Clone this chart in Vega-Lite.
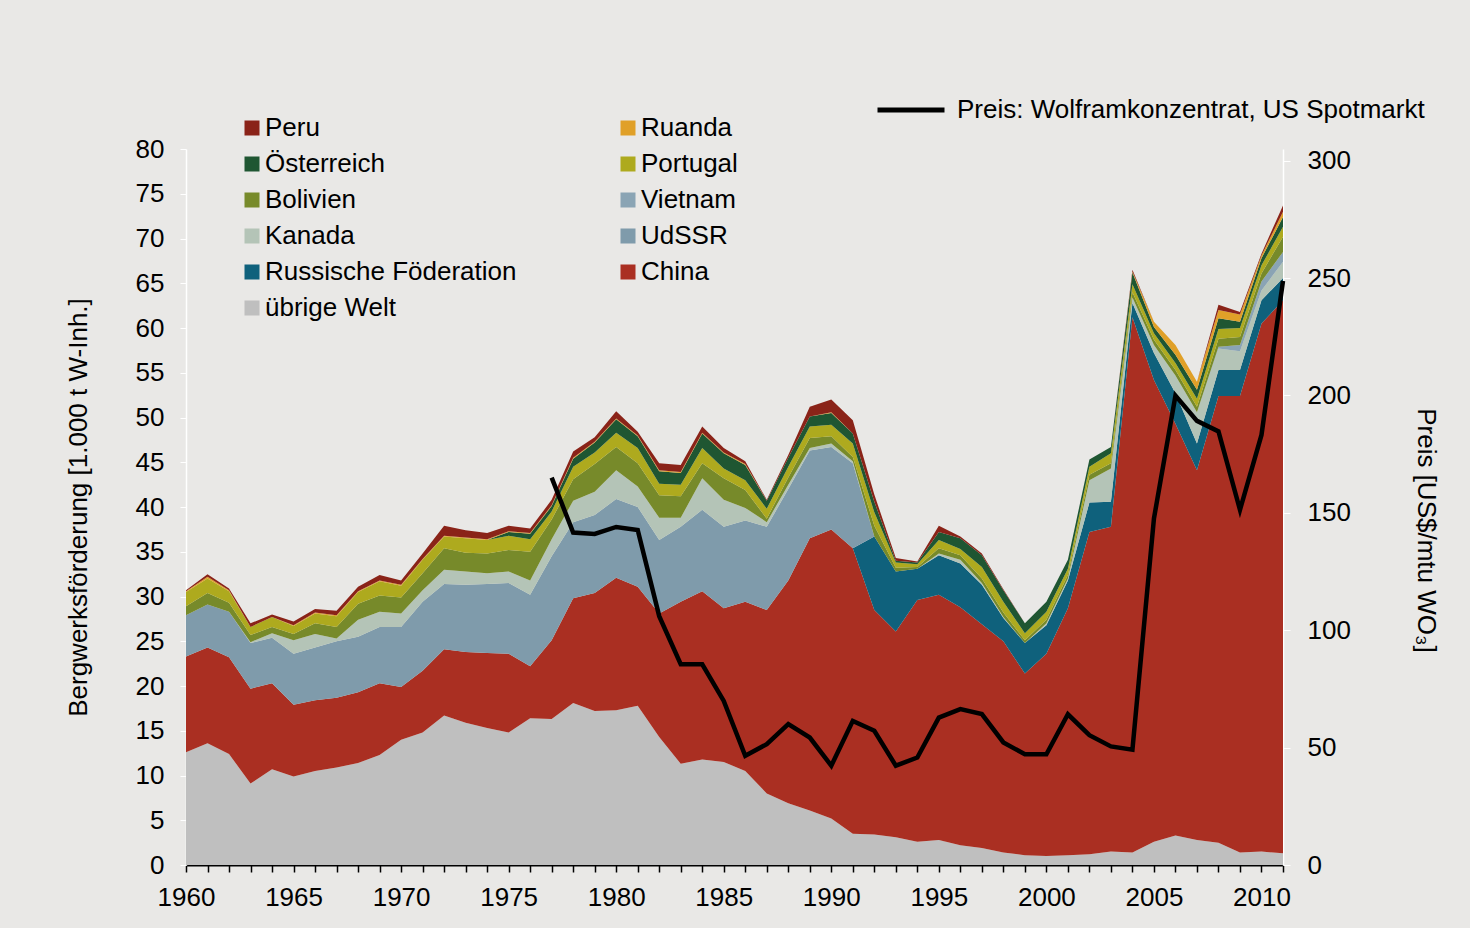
{
  "$schema": "https://vega.github.io/schema/vega-lite/v6.json",
  "width": 1097,
  "height": 716,
  "autosize": {"type": "none"},
  "padding": {"left": 186, "top": 149, "right": 187, "bottom": 63},
  "background": "#e9e8e6",
  "config": {
    "font": "Liberation Sans",
    "view": {"stroke": null},
    "axis": {"grid": false, "labelFont": "Liberation Sans", "titleFont": "Liberation Sans", "labelFontSize": 26, "labelColor": "#000", "titleFontSize": 26, "titleFontWeight": "normal", "titleColor": "#000"},
    "axisX": {"labelOverlap": false}
  },
  "data": {
    "values": [
      {"Jahr": 1960, "übrige Welt": 12.6, "China": 10.7, "UdSSR": 4.6, "Russische Föderation": 0, "Kanada": 0, "Vietnam": 0, "Bolivien": 1.0, "Portugal": 1.6, "Österreich": 0, "Ruanda": 0.1, "Peru": 0.1, "Preis": null},
      {"Jahr": 1961, "übrige Welt": 13.6, "China": 10.7, "UdSSR": 4.8, "Russische Föderation": 0, "Kanada": 0, "Vietnam": 0, "Bolivien": 1.3, "Portugal": 1.6, "Österreich": 0, "Ruanda": 0.2, "Peru": 0.3, "Preis": null},
      {"Jahr": 1962, "übrige Welt": 12.4, "China": 10.8, "UdSSR": 5.1, "Russische Föderation": 0, "Kanada": 0, "Vietnam": 0, "Bolivien": 1.0, "Portugal": 1.3, "Österreich": 0, "Ruanda": 0.1, "Peru": 0.2, "Preis": null},
      {"Jahr": 1963, "übrige Welt": 9.1, "China": 10.6, "UdSSR": 5.1, "Russische Föderation": 0, "Kanada": 0.1, "Vietnam": 0, "Bolivien": 0.8, "Portugal": 0.9, "Österreich": 0, "Ruanda": 0, "Peru": 0.4, "Preis": null},
      {"Jahr": 1964, "übrige Welt": 10.7, "China": 9.6, "UdSSR": 5.1, "Russische Föderation": 0, "Kanada": 0.5, "Vietnam": 0, "Bolivien": 0.7, "Portugal": 1.1, "Österreich": 0, "Ruanda": 0, "Peru": 0.3, "Preis": null},
      {"Jahr": 1965, "übrige Welt": 9.9, "China": 8.0, "UdSSR": 5.7, "Russische Föderation": 0, "Kanada": 1.5, "Vietnam": 0, "Bolivien": 0.7, "Portugal": 0.9, "Österreich": 0, "Ruanda": 0.1, "Peru": 0.4, "Preis": null},
      {"Jahr": 1966, "übrige Welt": 10.5, "China": 7.9, "UdSSR": 5.9, "Russische Föderation": 0, "Kanada": 1.5, "Vietnam": 0, "Bolivien": 1.2, "Portugal": 1.1, "Österreich": 0, "Ruanda": 0.1, "Peru": 0.4, "Preis": null},
      {"Jahr": 1967, "übrige Welt": 10.9, "China": 7.8, "UdSSR": 6.3, "Russische Föderation": 0, "Kanada": 0.3, "Vietnam": 0, "Bolivien": 1.3, "Portugal": 1.2, "Österreich": 0, "Ruanda": 0.1, "Peru": 0.5, "Preis": null},
      {"Jahr": 1968, "übrige Welt": 11.4, "China": 7.9, "UdSSR": 6.2, "Russische Föderation": 0, "Kanada": 1.9, "Vietnam": 0, "Bolivien": 1.8, "Portugal": 1.3, "Österreich": 0, "Ruanda": 0.1, "Peru": 0.5, "Preis": null},
      {"Jahr": 1969, "übrige Welt": 12.3, "China": 8.0, "UdSSR": 6.3, "Russische Föderation": 0, "Kanada": 1.7, "Vietnam": 0, "Bolivien": 1.8, "Portugal": 1.6, "Österreich": 0, "Ruanda": 0.1, "Peru": 0.6, "Preis": null},
      {"Jahr": 1970, "übrige Welt": 14.0, "China": 5.9, "UdSSR": 6.7, "Russische Föderation": 0, "Kanada": 1.5, "Vietnam": 0, "Bolivien": 1.8, "Portugal": 1.3, "Österreich": 0, "Ruanda": 0.1, "Peru": 0.5, "Preis": null},
      {"Jahr": 1971, "übrige Welt": 14.8, "China": 6.9, "UdSSR": 7.7, "Russische Föderation": 0, "Kanada": 1.3, "Vietnam": 0, "Bolivien": 1.9, "Portugal": 1.5, "Österreich": 0, "Ruanda": 0.1, "Peru": 0.6, "Preis": null},
      {"Jahr": 1972, "übrige Welt": 16.7, "China": 7.4, "UdSSR": 7.3, "Russische Föderation": 0, "Kanada": 1.6, "Vietnam": 0, "Bolivien": 2.4, "Portugal": 1.3, "Österreich": 0, "Ruanda": 0.1, "Peru": 1.1, "Preis": null},
      {"Jahr": 1973, "übrige Welt": 15.9, "China": 7.9, "UdSSR": 7.5, "Russische Föderation": 0, "Kanada": 1.5, "Vietnam": 0, "Bolivien": 2.1, "Portugal": 1.6, "Österreich": 0, "Ruanda": 0.1, "Peru": 0.8, "Preis": null},
      {"Jahr": 1974, "übrige Welt": 15.3, "China": 8.4, "UdSSR": 7.7, "Russische Föderation": 0, "Kanada": 1.2, "Vietnam": 0, "Bolivien": 2.2, "Portugal": 1.5, "Österreich": 0, "Ruanda": 0.1, "Peru": 0.7, "Preis": null},
      {"Jahr": 1975, "übrige Welt": 14.8, "China": 8.8, "UdSSR": 7.9, "Russische Föderation": 0, "Kanada": 1.3, "Vietnam": 0, "Bolivien": 2.4, "Portugal": 1.6, "Österreich": 0.4, "Ruanda": 0.1, "Peru": 0.6, "Preis": null},
      {"Jahr": 1976, "übrige Welt": 16.4, "China": 5.8, "UdSSR": 8.0, "Russische Föderation": 0, "Kanada": 1.6, "Vietnam": 0, "Bolivien": 3.2, "Portugal": 1.4, "Österreich": 0.6, "Ruanda": 0.1, "Peru": 0.5, "Preis": null},
      {"Jahr": 1977, "übrige Welt": 16.3, "China": 8.8, "UdSSR": 9.4, "Russische Föderation": 0, "Kanada": 1.9, "Vietnam": 0, "Bolivien": 2.2, "Portugal": 0.9, "Österreich": 0.6, "Ruanda": 0.1, "Peru": 0.6, "Preis": 165},
      {"Jahr": 1978, "übrige Welt": 18.1, "China": 11.7, "UdSSR": 8.5, "Russische Föderation": 0, "Kanada": 2.4, "Vietnam": 0, "Bolivien": 2.4, "Portugal": 1.4, "Österreich": 0.9, "Ruanda": 0.1, "Peru": 0.7, "Preis": 141.6},
      {"Jahr": 1979, "übrige Welt": 17.2, "China": 13.2, "UdSSR": 8.7, "Russische Föderation": 0, "Kanada": 2.6, "Vietnam": 0, "Bolivien": 3.1, "Portugal": 1.3, "Österreich": 1.1, "Ruanda": 0.1, "Peru": 0.5, "Preis": 141},
      {"Jahr": 1980, "übrige Welt": 17.3, "China": 14.8, "UdSSR": 8.8, "Russische Föderation": 0, "Kanada": 3.2, "Vietnam": 0, "Bolivien": 2.6, "Portugal": 1.6, "Österreich": 1.5, "Ruanda": 0.1, "Peru": 0.8, "Preis": 144},
      {"Jahr": 1981, "übrige Welt": 17.8, "China": 13.3, "UdSSR": 8.9, "Russische Föderation": 0, "Kanada": 2.3, "Vietnam": 0, "Bolivien": 2.6, "Portugal": 1.7, "Österreich": 1.3, "Ruanda": 0.1, "Peru": 0.4, "Preis": 142.7},
      {"Jahr": 1982, "übrige Welt": 14.3, "China": 13.8, "UdSSR": 8.2, "Russische Föderation": 0, "Kanada": 2.5, "Vietnam": 0, "Bolivien": 2.5, "Portugal": 1.3, "Österreich": 1.4, "Ruanda": 0.1, "Peru": 0.8, "Preis": 106},
      {"Jahr": 1983, "übrige Welt": 11.3, "China": 18.1, "UdSSR": 8.4, "Russische Föderation": 0, "Kanada": 1.0, "Vietnam": 0, "Bolivien": 2.4, "Portugal": 1.3, "Österreich": 1.3, "Ruanda": 0.1, "Peru": 0.8, "Preis": 85.5},
      {"Jahr": 1984, "übrige Welt": 11.8, "China": 18.8, "UdSSR": 9.1, "Russische Föderation": 0, "Kanada": 3.5, "Vietnam": 0, "Bolivien": 1.7, "Portugal": 1.7, "Österreich": 1.6, "Ruanda": 0.1, "Peru": 0.7, "Preis": 85.5},
      {"Jahr": 1985, "übrige Welt": 11.5, "China": 17.2, "UdSSR": 9.1, "Russische Föderation": 0, "Kanada": 3.0, "Vietnam": 0, "Bolivien": 2.4, "Portugal": 1.1, "Österreich": 1.7, "Ruanda": 0.1, "Peru": 0.5, "Preis": 69.9},
      {"Jahr": 1986, "übrige Welt": 10.5, "China": 18.9, "UdSSR": 9.1, "Russische Föderation": 0, "Kanada": 1.4, "Vietnam": 0, "Bolivien": 2.0, "Portugal": 1.1, "Österreich": 1.7, "Ruanda": 0.1, "Peru": 0.3, "Preis": 46.5},
      {"Jahr": 1987, "übrige Welt": 8.0, "China": 20.5, "UdSSR": 9.3, "Russische Föderation": 0, "Kanada": 0.5, "Vietnam": 0, "Bolivien": 0.4, "Portugal": 1.1, "Österreich": 0.9, "Ruanda": 0, "Peru": 0.1, "Preis": 51.5},
      {"Jahr": 1988, "übrige Welt": 6.9, "China": 24.9, "UdSSR": 10.2, "Russische Föderation": 0, "Kanada": 0.5, "Vietnam": 0, "Bolivien": 0.8, "Portugal": 1.2, "Österreich": 1.0, "Ruanda": 0, "Peru": 0.3, "Preis": 60},
      {"Jahr": 1989, "übrige Welt": 6.1, "China": 30.4, "UdSSR": 9.8, "Russische Föderation": 0, "Kanada": 0.3, "Vietnam": 0, "Bolivien": 1.1, "Portugal": 1.3, "Österreich": 1.1, "Ruanda": 0, "Peru": 1.1, "Preis": 54.3},
      {"Jahr": 1990, "übrige Welt": 5.2, "China": 32.3, "UdSSR": 9.2, "Russische Föderation": 0, "Kanada": 0.4, "Vietnam": 0, "Bolivien": 0.8, "Portugal": 1.3, "Österreich": 1.3, "Ruanda": 0.1, "Peru": 1.4, "Preis": 42.3},
      {"Jahr": 1991, "übrige Welt": 3.5, "China": 31.9, "UdSSR": 9.5, "Russische Föderation": 0, "Kanada": 0.2, "Vietnam": 0, "Bolivien": 0.5, "Portugal": 1.5, "Österreich": 1.1, "Ruanda": 0, "Peru": 1.5, "Preis": 61.4},
      {"Jahr": 1992, "übrige Welt": 3.4, "China": 25.1, "UdSSR": 0, "Russische Föderation": 8.2, "Kanada": 0, "Vietnam": 0, "Bolivien": 1.2, "Portugal": 1.5, "Österreich": 1.2, "Ruanda": 0, "Peru": 0.8, "Preis": 57.2},
      {"Jahr": 1993, "übrige Welt": 3.1, "China": 23.0, "UdSSR": 0, "Russische Föderation": 6.7, "Kanada": 0, "Vietnam": 0, "Bolivien": 0.4, "Portugal": 0.6, "Österreich": 0.2, "Ruanda": 0, "Peru": 0.3, "Preis": 42.3},
      {"Jahr": 1994, "übrige Welt": 2.6, "China": 27.0, "UdSSR": 0, "Russische Föderation": 3.5, "Kanada": 0, "Vietnam": 0, "Bolivien": 0.2, "Portugal": 0.3, "Österreich": 0.2, "Ruanda": 0, "Peru": 0.1, "Preis": 45.8},
      {"Jahr": 1995, "übrige Welt": 2.8, "China": 27.4, "UdSSR": 0, "Russische Föderation": 4.4, "Kanada": 0.2, "Vietnam": 0, "Bolivien": 0.6, "Portugal": 0.9, "Österreich": 0.9, "Ruanda": 0, "Peru": 0.7, "Preis": 62.8},
      {"Jahr": 1996, "übrige Welt": 2.2, "China": 26.6, "UdSSR": 0, "Russische Föderation": 4.9, "Kanada": 0.4, "Vietnam": 0, "Bolivien": 0.5, "Portugal": 0.7, "Österreich": 1.2, "Ruanda": 0, "Peru": 0.2, "Preis": 66.4},
      {"Jahr": 1997, "übrige Welt": 1.9, "China": 25.0, "UdSSR": 0, "Russische Föderation": 4.4, "Kanada": 0.2, "Vietnam": 0, "Bolivien": 0.5, "Portugal": 1.3, "Österreich": 1.3, "Ruanda": 0, "Peru": 0.2, "Preis": 64.3},
      {"Jahr": 1998, "übrige Welt": 1.4, "China": 23.6, "UdSSR": 0, "Russische Föderation": 2.6, "Kanada": 0.1, "Vietnam": 0, "Bolivien": 0.5, "Portugal": 1.2, "Österreich": 1.3, "Ruanda": 0, "Peru": 0.1, "Preis": 52.2},
      {"Jahr": 1999, "übrige Welt": 1.1, "China": 20.3, "UdSSR": 0, "Russische Föderation": 3.4, "Kanada": 0, "Vietnam": 0, "Bolivien": 0.3, "Portugal": 0.8, "Österreich": 1.1, "Ruanda": 0, "Peru": 0, "Preis": 47.2},
      {"Jahr": 2000, "übrige Welt": 1.0, "China": 22.6, "UdSSR": 0, "Russische Föderation": 3.2, "Kanada": 0.2, "Vietnam": 0, "Bolivien": 0.4, "Portugal": 0.9, "Österreich": 1.1, "Ruanda": 0, "Peru": 0, "Preis": 47.2},
      {"Jahr": 2001, "übrige Welt": 1.1, "China": 27.6, "UdSSR": 0, "Russische Föderation": 3.1, "Kanada": 0.2, "Vietnam": 0, "Bolivien": 0.4, "Portugal": 0.7, "Österreich": 1.0, "Ruanda": 0, "Peru": 0, "Preis": 64.2},
      {"Jahr": 2002, "übrige Welt": 1.2, "China": 36.0, "UdSSR": 0, "Russische Föderation": 3.3, "Kanada": 2.5, "Vietnam": 0, "Bolivien": 0.6, "Portugal": 0.9, "Österreich": 0.8, "Ruanda": 0, "Peru": 0, "Preis": 55.3},
      {"Jahr": 2003, "übrige Welt": 1.5, "China": 36.3, "UdSSR": 0, "Russische Föderation": 2.8, "Kanada": 3.7, "Vietnam": 0, "Bolivien": 0.6, "Portugal": 1.1, "Österreich": 0.7, "Ruanda": 0, "Peru": 0, "Preis": 50.5},
      {"Jahr": 2004, "übrige Welt": 1.4, "China": 59.8, "UdSSR": 0, "Russische Föderation": 1.6, "Kanada": 0.6, "Vietnam": 0, "Bolivien": 0.6, "Portugal": 0.9, "Österreich": 1.3, "Ruanda": 0.1, "Peru": 0.2, "Preis": 49.1},
      {"Jahr": 2005, "übrige Welt": 2.6, "China": 51.6, "UdSSR": 0, "Russische Föderation": 3.0, "Kanada": 0.9, "Vietnam": 0, "Bolivien": 0.6, "Portugal": 0.7, "Österreich": 0.7, "Ruanda": 0.6, "Peru": 0, "Preis": 147.6},
      {"Jahr": 2006, "übrige Welt": 3.3, "China": 46.0, "UdSSR": 0, "Russische Föderation": 3.4, "Kanada": 2.0, "Vietnam": 0, "Bolivien": 0.6, "Portugal": 0.8, "Österreich": 0.9, "Ruanda": 1.1, "Peru": 0, "Preis": 200},
      {"Jahr": 2007, "übrige Welt": 2.8, "China": 41.3, "UdSSR": 0, "Russische Föderation": 3.0, "Kanada": 3.5, "Vietnam": 0, "Bolivien": 0.6, "Portugal": 0.9, "Österreich": 1.0, "Ruanda": 0.9, "Peru": 0, "Preis": 189.2},
      {"Jahr": 2008, "übrige Welt": 2.5, "China": 49.9, "UdSSR": 0, "Russische Föderation": 2.9, "Kanada": 2.4, "Vietnam": 0.2, "Bolivien": 0.9, "Portugal": 1.1, "Österreich": 1.2, "Ruanda": 0.9, "Peru": 0.6, "Preis": 184.7},
      {"Jahr": 2009, "übrige Welt": 1.4, "China": 51.0, "UdSSR": 0, "Russische Föderation": 2.9, "Kanada": 2.1, "Vietnam": 0.7, "Bolivien": 0.9, "Portugal": 1.0, "Österreich": 0.7, "Ruanda": 0.8, "Peru": 0.3, "Preis": 151.3},
      {"Jahr": 2010, "übrige Welt": 1.5, "China": 59.0, "UdSSR": 0, "Russische Föderation": 2.6, "Kanada": 1.1, "Vietnam": 1.0, "Bolivien": 0.9, "Portugal": 0.9, "Österreich": 0.8, "Ruanda": 0.3, "Peru": 0.2, "Preis": 183.2},
      {"Jahr": 2011, "übrige Welt": 1.3, "China": 61.8, "UdSSR": 0, "Russische Föderation": 2.5, "Kanada": 1.8, "Vietnam": 1.1, "Bolivien": 1.7, "Portugal": 1.1, "Österreich": 1.1, "Ruanda": 0.6, "Peru": 0.7, "Preis": 248.8}
    ]
  },
  "encoding": {
    "x": {
      "field": "Jahr", "type": "quantitative",
      "scale": {"domain": [1960, 2011], "nice": false, "zero": false},
      "axis": {
        "title": null, "format": "d",
        "values": [1960,1961,1962,1963,1964,1965,1966,1967,1968,1969,1970,1971,1972,1973,1974,1975,1976,1977,1978,1979,1980,1981,1982,1983,1984,1985,1986,1987,1988,1989,1990,1991,1992,1993,1994,1995,1996,1997,1998,1999,2000,2001,2002,2003,2004,2005,2006,2007,2008,2009,2010,2011],
        "labelExpr": "datum.value % 5 === 0 ? datum.label : ''",
        "labelOverlap": false, "labelFlush": false, "labelBound": false,
        "tickSize": 7, "tickColor": "#000", "tickWidth": 1.5,
        "domainColor": "#000", "domainWidth": 2,
        "labelPadding": 12
      }
    }
  },
  "layer": [
    {
      "transform": [
        {"fold": ["übrige Welt", "China", "Russische Föderation", "UdSSR", "Kanada", "Vietnam", "Bolivien", "Portugal", "Österreich", "Ruanda", "Peru"], "as": ["Land", "Wert"]},
        {"calculate": "indexof(['übrige Welt', 'China', 'Russische Föderation', 'UdSSR', 'Kanada', 'Vietnam', 'Bolivien', 'Portugal', 'Österreich', 'Ruanda', 'Peru'], datum.Land)", "as": "Stapel"}
      ],
      "mark": {"type": "area", "interpolate": "linear"},
      "encoding": {
        "y": {
          "field": "Wert", "type": "quantitative", "stack": "zero",
          "scale": {"domain": [0, 80], "nice": false},
          "axis": {
            "orient": "left",
            "title": "Bergwerksförderung [1.000 t W-Inh.]",
            "values": [0,5,10,15,20,25,30,35,40,45,50,55,60,65,70,75,80],
            "tickSize": 6, "tickColor": "#ffffff", "domainColor": "#ffffff", "domainWidth": 1.5,
            "labelPadding": 16, "titlePadding": 44
          }
        },
        "order": {"field": "Stapel", "type": "quantitative", "sort": "ascending"},
        "color": {
          "field": "Land", "type": "nominal",
          "scale": {
            "domain": ["Peru", "Österreich", "Bolivien", "Kanada", "Russische Föderation", "übrige Welt", "Ruanda", "Portugal", "Vietnam", "UdSSR", "China"],
            "range": ["#8a2318", "#1f5632", "#778a2a", "#b4c4b7", "#0f617c", "#bfbfbf", "#e0a028", "#aeaa1e", "#8aa4b4", "#7f9bab", "#aa2f22"]
          },
          "legend": {
            "orient": "none", "legendX": 53, "legendY": -34, "columns": 2, "title": null,
            "symbolType": "square", "symbolSize": 225, "symbolStrokeWidth": 0,
            "labelFontSize": 26, "labelFont": "Liberation Sans", "labelColor": "#000",
            "rowPadding": 10, "columnPadding": 98, "labelOffset": 0, "padding": 0, "labelLimit": 500
          }
        }
      }
    },
    {
      "mark": {"type": "line", "strokeWidth": 4.5, "strokeJoin": "miter"},
      "encoding": {
        "y": {
          "field": "Preis", "type": "quantitative",
          "scale": {"domain": [0, 305], "nice": false},
          "axis": {
            "orient": "right",
            "title": "Preis [US$/mtu WO₃]",
            "values": [0, 50, 100, 150, 200, 250, 300],
            "tickSize": 7, "tickColor": "#ffffff", "domainColor": "#ffffff", "domainWidth": 1.5,
            "labelPadding": 17, "titlePadding": 62, "titleY": 381
          }
        },
        "stroke": {
          "datum": "Preis: Wolframkonzentrat, US Spotmarkt", "type": "nominal",
          "scale": {"range": ["#000000"]},
          "legend": {
            "orient": "none", "legendX": 689, "legendY": -75, "title": null,
            "symbolType": "stroke", "symbolSize": 4489, "symbolStrokeWidth": 5,
            "labelFontSize": 26, "labelFont": "Liberation Sans", "labelColor": "#000",
            "labelOffset": 10, "padding": 0, "labelLimit": 600
          }
        }
      }
    }
  ],
  "resolve": {"scale": {"y": "independent"}}
}
